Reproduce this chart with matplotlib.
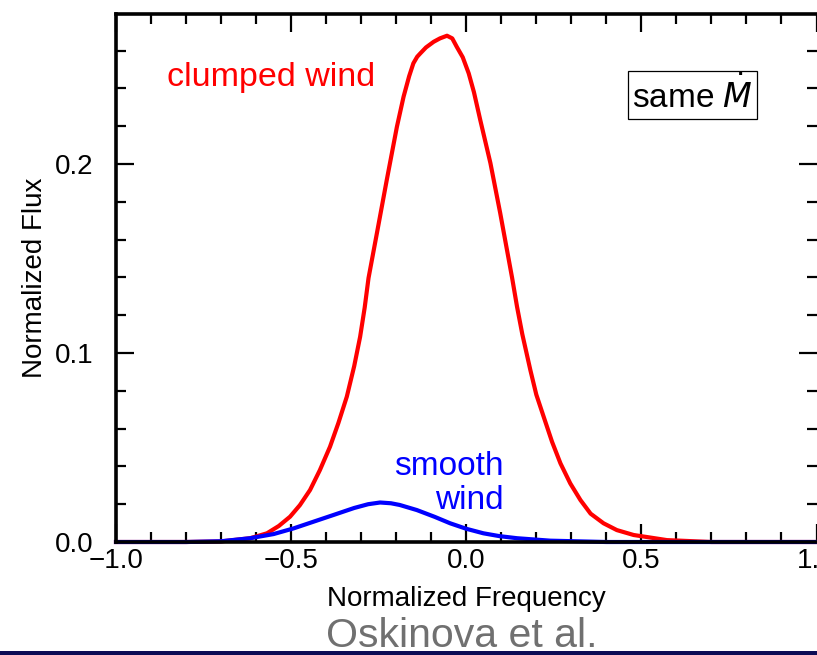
import numpy as np
import matplotlib
matplotlib.use("Agg")
import matplotlib.pyplot as plt
from matplotlib.ticker import MultipleLocator
from matplotlib.patches import Rectangle

plt.rcParams['font.family'] = ['Liberation Sans', 'DejaVu Sans']

# clumped wind (red)
freq_clumped = [-1.0, -0.8, -0.7, -0.617, -0.569, -0.535, -0.503, -0.475, -0.446,
                -0.418, -0.389, -0.365, -0.341, -0.32, -0.303, -0.29, -0.279,
                -0.255, -0.227, -0.198, -0.179, -0.163, -0.151, -0.14, -0.131,
                -0.115, -0.093, -0.075, -0.055, -0.04, -0.027, -0.01, 0.007,
                0.022, 0.040, 0.069, 0.097, 0.131, 0.145, 0.16, 0.183, 0.20,
                0.221, 0.245, 0.269, 0.297, 0.326, 0.355, 0.392, 0.43, 0.478,
                0.573, 0.7, 1.0]
flux_clumped = [0.0, 0.0, 0.0003, 0.002, 0.0046, 0.0085, 0.0134, 0.0195, 0.0275,
                0.038, 0.0504, 0.063, 0.0769, 0.093, 0.1086, 0.124, 0.1397,
                0.1635, 0.1915, 0.2197, 0.2356, 0.2465, 0.2533, 0.2568, 0.2586,
                0.2617, 0.2647, 0.2665, 0.2679, 0.2665, 0.262, 0.2565, 0.248,
                0.238, 0.2233, 0.2005, 0.174, 0.1397, 0.1245, 0.110, 0.091, 0.078,
                0.0663, 0.053, 0.0416, 0.031, 0.0222, 0.015, 0.0099, 0.0063,
                0.0037, 0.001, 0.0, 0.0]

# smooth wind (blue)
freq_smooth = [-1.0, -0.8, -0.7, -0.617, -0.55, -0.493, -0.44, -0.379, -0.32,
               -0.28, -0.246, -0.215, -0.19, -0.141, -0.09, -0.046, 0.0, 0.049,
               0.095, 0.145, 0.24, 0.4, 1.0]
flux_smooth = [0.0, 0.0, 0.0004, 0.002, 0.0042, 0.0072, 0.0105, 0.0143, 0.0180,
               0.0200, 0.0209, 0.0205, 0.0196, 0.0169, 0.0133, 0.0099, 0.0070,
               0.0046, 0.0031, 0.002, 0.0007, 0.0, 0.0]

W, H = 817, 655
fig = plt.figure(figsize=(W / 100, H / 100), dpi=100)
ax = fig.add_axes([116 / W, 113 / H, 700.5 / W, 528 / H])

ax.plot(freq_clumped, flux_clumped, color='#ff0000', lw=3, zorder=2, clip_on=False)
ax.plot(freq_smooth, flux_smooth, color='#0000ff', lw=3, zorder=2.1, clip_on=False)

ax.set_xlim(-1.0, 1.0)
ax.set_ylim(0.0, 0.2794)
ax.xaxis.set_major_locator(MultipleLocator(0.5))
ax.xaxis.set_minor_locator(MultipleLocator(0.1))
ax.yaxis.set_major_locator(MultipleLocator(0.1))
ax.yaxis.set_minor_locator(MultipleLocator(0.02))
ax.set_xticks([-1.0, -0.5, 0.0, 0.5, 1.0])
ax.set_xticklabels(['\u22121.0', '\u22120.5', '0.0', '0.5', '1.0'])
ax.set_yticks([0.0, 0.1, 0.2])
ax.set_yticklabels(['0.0', '0.1', '0.2'])

ax.tick_params(which='both', direction='in', top=True, right=True, width=1.6,
               labelsize=20, color='black')
ax.tick_params(axis='x', which='major', length=13, pad=4)
ax.tick_params(axis='y', which='major', length=13, pad=16)
ax.tick_params(which='minor', length=7)
for s in ax.spines.values():
    s.set_linewidth(2.6)
    s.set_zorder(3)
ax.spines['right'].set_visible(False)

ax.set_xlabel('Normalized Frequency', fontsize=20, labelpad=9)
ax.set_ylabel('Normalized Flux', fontsize=20, labelpad=5)

ax.text(-0.556, 0.246, 'clumped wind', color='#ff0000', fontsize=24.5,
        ha='center', va='center')
ax.text(0.106, 0.031, 'smooth\nwind', color='#0000ff', fontsize=24,
        ha='right', va='center', multialignment='right', linespacing=1.15)
ax.text(0.646, 0.2365, r'same $\dot{M}$', color='black', fontsize=24,
        ha='center', va='center',
        bbox=dict(boxstyle='square,pad=0.12', fc='white', ec='black', lw=0.9))

fig.text(462 / W, 1 - 636 / H, 'Oskinova et al.', color='#707070', fontsize=29.5,
         ha='center', va='center')
fig.patches.append(Rectangle((0, 0), 1, 4 / H, transform=fig.transFigure,
                             facecolor='#0c0c55', edgecolor='none', zorder=10))

fig.savefig('out.png', dpi=100)
